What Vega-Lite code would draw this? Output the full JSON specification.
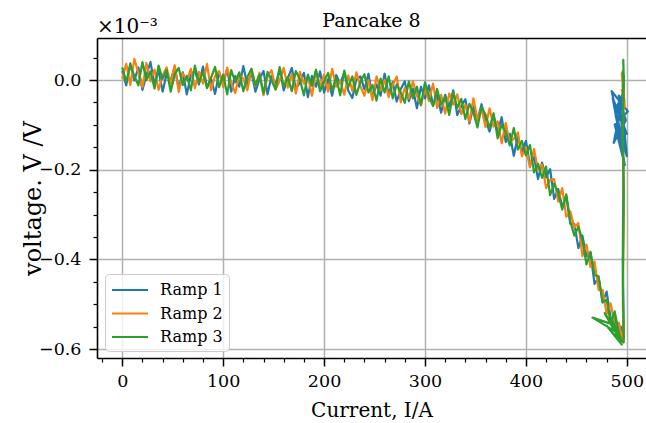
{
  "$schema": "https://vega.github.io/schema/vega-lite/v6.json",
  "width": 549,
  "height": 320,
  "autosize": {"type": "none"},
  "padding": {"left": 97, "top": 38, "right": 0, "bottom": 65},
  "background": "white",
  "title": {"text": "Pancake 8", "font": "DejaVu Serif", "fontSize": 19, "fontWeight": "normal", "color": "black", "offset": 8, "dy": 22, "anchor": "middle", "frame": "group"},
  "config": {
    "view": {"stroke": null},
    "axis": {
      "labelFont": "DejaVu Serif", "labelFontSize": 17.5, "labelColor": "black",
      "titleFont": "DejaVu Serif", "titleFontSize": 20, "titleColor": "black", "titleFontWeight": "normal",
      "domainColor": "black", "domainWidth": 1.6, "tickColor": "black", "tickWidth": 1.5,
      "gridColor": "#b0b0b0", "gridWidth": 1.5
    }
  },
  "resolve": {"axis": {"x": "independent", "y": "independent"}},
  "layer": [
    {
      "data": {"values": [
{"ramp":"Ramp 1","i":0,"v":0.020},{"ramp":"Ramp 1","i":4,"v":-0.012},{"ramp":"Ramp 1","i":8,"v":0.037},{"ramp":"Ramp 1","i":12,"v":-0.001},{"ramp":"Ramp 1","i":16,"v":0.028},{"ramp":"Ramp 1","i":20,"v":-0.022},{"ramp":"Ramp 1","i":24,"v":0.011},{"ramp":"Ramp 1","i":28,"v":0.040},{"ramp":"Ramp 1","i":32,"v":-0.010},{"ramp":"Ramp 1","i":36,"v":0.022},
{"ramp":"Ramp 1","i":40,"v":-0.026},{"ramp":"Ramp 1","i":44,"v":0.014},{"ramp":"Ramp 1","i":48,"v":-0.001},{"ramp":"Ramp 1","i":52,"v":0.029},{"ramp":"Ramp 1","i":56,"v":-0.019},{"ramp":"Ramp 1","i":60,"v":0.017},{"ramp":"Ramp 1","i":64,"v":-0.032},{"ramp":"Ramp 1","i":68,"v":0.011},{"ramp":"Ramp 1","i":72,"v":0.022},{"ramp":"Ramp 1","i":76,"v":-0.010},
{"ramp":"Ramp 1","i":80,"v":0.030},{"ramp":"Ramp 1","i":84,"v":-0.016},{"ramp":"Ramp 1","i":88,"v":0.003},{"ramp":"Ramp 1","i":92,"v":-0.031},{"ramp":"Ramp 1","i":96,"v":0.016},{"ramp":"Ramp 1","i":100,"v":-0.006},{"ramp":"Ramp 1","i":104,"v":0.024},{"ramp":"Ramp 1","i":108,"v":-0.026},{"ramp":"Ramp 1","i":112,"v":0.009},{"ramp":"Ramp 1","i":116,"v":-0.015},
{"ramp":"Ramp 1","i":120,"v":0.031},{"ramp":"Ramp 1","i":124,"v":-0.011},{"ramp":"Ramp 1","i":128,"v":0.017},{"ramp":"Ramp 1","i":132,"v":-0.026},{"ramp":"Ramp 1","i":136,"v":0.002},{"ramp":"Ramp 1","i":140,"v":0.020},{"ramp":"Ramp 1","i":144,"v":-0.032},{"ramp":"Ramp 1","i":148,"v":0.010},{"ramp":"Ramp 1","i":152,"v":-0.011},{"ramp":"Ramp 1","i":156,"v":0.024},
{"ramp":"Ramp 1","i":160,"v":-0.023},{"ramp":"Ramp 1","i":164,"v":0.003},{"ramp":"Ramp 1","i":168,"v":0.027},{"ramp":"Ramp 1","i":172,"v":-0.020},{"ramp":"Ramp 1","i":176,"v":-0.006},{"ramp":"Ramp 1","i":180,"v":0.016},{"ramp":"Ramp 1","i":184,"v":-0.038},{"ramp":"Ramp 1","i":188,"v":0.009},{"ramp":"Ramp 1","i":192,"v":-0.015},{"ramp":"Ramp 1","i":196,"v":0.019},
{"ramp":"Ramp 1","i":200,"v":-0.028},{"ramp":"Ramp 1","i":204,"v":0.002},{"ramp":"Ramp 1","i":208,"v":-0.035},{"ramp":"Ramp 1","i":212,"v":0.011},{"ramp":"Ramp 1","i":216,"v":-0.008},{"ramp":"Ramp 1","i":220,"v":0.017},{"ramp":"Ramp 1","i":224,"v":-0.024},{"ramp":"Ramp 1","i":228,"v":-0.040},{"ramp":"Ramp 1","i":232,"v":0.001},{"ramp":"Ramp 1","i":236,"v":0.008},
{"ramp":"Ramp 1","i":240,"v":-0.021},{"ramp":"Ramp 1","i":244,"v":0.014},{"ramp":"Ramp 1","i":248,"v":-0.039},{"ramp":"Ramp 1","i":252,"v":-0.010},{"ramp":"Ramp 1","i":256,"v":-0.035},{"ramp":"Ramp 1","i":260,"v":0.014},{"ramp":"Ramp 1","i":264,"v":-0.032},{"ramp":"Ramp 1","i":268,"v":-0.005},{"ramp":"Ramp 1","i":272,"v":-0.048},{"ramp":"Ramp 1","i":276,"v":-0.020},
{"ramp":"Ramp 1","i":280,"v":-0.003},{"ramp":"Ramp 1","i":284,"v":-0.047},{"ramp":"Ramp 1","i":288,"v":-0.019},{"ramp":"Ramp 1","i":292,"v":-0.063},{"ramp":"Ramp 1","i":296,"v":-0.015},{"ramp":"Ramp 1","i":300,"v":-0.041},{"ramp":"Ramp 1","i":304,"v":-0.012},{"ramp":"Ramp 1","i":308,"v":-0.056},{"ramp":"Ramp 1","i":312,"v":-0.034},{"ramp":"Ramp 1","i":316,"v":-0.073},
{"ramp":"Ramp 1","i":320,"v":-0.033},{"ramp":"Ramp 1","i":324,"v":-0.060},{"ramp":"Ramp 1","i":328,"v":-0.023},{"ramp":"Ramp 1","i":332,"v":-0.078},{"ramp":"Ramp 1","i":336,"v":-0.058},{"ramp":"Ramp 1","i":340,"v":-0.043},{"ramp":"Ramp 1","i":344,"v":-0.097},{"ramp":"Ramp 1","i":348,"v":-0.059},{"ramp":"Ramp 1","i":352,"v":-0.090},{"ramp":"Ramp 1","i":356,"v":-0.054},
{"ramp":"Ramp 1","i":360,"v":-0.089},{"ramp":"Ramp 1","i":364,"v":-0.115},{"ramp":"Ramp 1","i":368,"v":-0.080},{"ramp":"Ramp 1","i":372,"v":-0.116},{"ramp":"Ramp 1","i":376,"v":-0.083},{"ramp":"Ramp 1","i":380,"v":-0.138},{"ramp":"Ramp 1","i":384,"v":-0.120},{"ramp":"Ramp 1","i":388,"v":-0.169},{"ramp":"Ramp 1","i":392,"v":-0.127},{"ramp":"Ramp 1","i":396,"v":-0.160},
{"ramp":"Ramp 1","i":400,"v":-0.136},{"ramp":"Ramp 1","i":404,"v":-0.189},{"ramp":"Ramp 1","i":408,"v":-0.172},{"ramp":"Ramp 1","i":412,"v":-0.221},{"ramp":"Ramp 1","i":416,"v":-0.184},{"ramp":"Ramp 1","i":420,"v":-0.217},{"ramp":"Ramp 1","i":424,"v":-0.199},{"ramp":"Ramp 1","i":428,"v":-0.265},{"ramp":"Ramp 1","i":432,"v":-0.243},{"ramp":"Ramp 1","i":436,"v":-0.283},
{"ramp":"Ramp 1","i":440,"v":-0.259},{"ramp":"Ramp 1","i":444,"v":-0.321},{"ramp":"Ramp 1","i":448,"v":-0.321},{"ramp":"Ramp 1","i":452,"v":-0.375},{"ramp":"Ramp 1","i":456,"v":-0.347},{"ramp":"Ramp 1","i":460,"v":-0.393},{"ramp":"Ramp 1","i":464,"v":-0.385},{"ramp":"Ramp 1","i":468,"v":-0.455},{"ramp":"Ramp 1","i":472,"v":-0.440},{"ramp":"Ramp 1","i":476,"v":-0.496},
{"ramp":"Ramp 1","i":480,"v":-0.472},{"ramp":"Ramp 1","i":484,"v":-0.532},{"ramp":"Ramp 1","i":488,"v":-0.530},{"ramp":"Ramp 1","i":492,"v":-0.579},{"ramp":"Ramp 1","i":495,"v":-0.565},{"ramp":"Ramp 1","i":490,"v":-0.555},{"ramp":"Ramp 1","i":496,"v":-0.582},{"ramp":"Ramp 1","i":494,"v":-0.550},{"ramp":"Ramp 1","i":497,"v":-0.575},{"ramp":"Ramp 1","i":496,"v":-0.400},
{"ramp":"Ramp 1","i":496.5,"v":-0.200},{"ramp":"Ramp 1","i":496,"v":-0.050},{"ramp":"Ramp 1","i":497,"v":0.010},{"ramp":"Ramp 1","i":496,"v":-0.030},{"ramp":"Ramp 1","i":490,"v":-0.060},{"ramp":"Ramp 1","i":500,"v":-0.120},{"ramp":"Ramp 1","i":486,"v":-0.040},{"ramp":"Ramp 1","i":498,"v":-0.190},{"ramp":"Ramp 1","i":488,"v":-0.100},{"ramp":"Ramp 1","i":501,"v":-0.070},
{"ramp":"Ramp 1","i":485,"v":-0.025},{"ramp":"Ramp 1","i":497,"v":-0.150},{"ramp":"Ramp 1","i":492,"v":-0.035},{"ramp":"Ramp 1","i":499,"v":-0.090},{"ramp":"Ramp 1","i":487,"v":-0.140},{"ramp":"Ramp 1","i":495,"v":-0.050},{"ramp":"Ramp 1","i":500,"v":-0.170},{"ramp":"Ramp 1","i":489,"v":-0.080},{"ramp":"Ramp 1","i":496,"v":-0.030},

{"ramp":"Ramp 2","i":0,"v":0.003},{"ramp":"Ramp 2","i":4,"v":0.036},{"ramp":"Ramp 2","i":8,"v":-0.011},{"ramp":"Ramp 2","i":12,"v":0.047},{"ramp":"Ramp 2","i":16,"v":0.016},{"ramp":"Ramp 2","i":20,"v":-0.016},{"ramp":"Ramp 2","i":24,"v":0.038},{"ramp":"Ramp 2","i":28,"v":-0.003},{"ramp":"Ramp 2","i":32,"v":0.023},{"ramp":"Ramp 2","i":36,"v":-0.022},
{"ramp":"Ramp 2","i":40,"v":0.010},{"ramp":"Ramp 2","i":44,"v":0.028},{"ramp":"Ramp 2","i":48,"v":-0.010},{"ramp":"Ramp 2","i":52,"v":0.033},{"ramp":"Ramp 2","i":56,"v":-0.027},{"ramp":"Ramp 2","i":60,"v":0.015},{"ramp":"Ramp 2","i":64,"v":-0.001},{"ramp":"Ramp 2","i":68,"v":0.025},{"ramp":"Ramp 2","i":72,"v":-0.018},{"ramp":"Ramp 2","i":76,"v":0.018},
{"ramp":"Ramp 2","i":80,"v":-0.008},{"ramp":"Ramp 2","i":84,"v":0.036},{"ramp":"Ramp 2","i":88,"v":-0.023},{"ramp":"Ramp 2","i":92,"v":0.009},{"ramp":"Ramp 2","i":96,"v":0.020},{"ramp":"Ramp 2","i":100,"v":-0.016},{"ramp":"Ramp 2","i":104,"v":0.028},{"ramp":"Ramp 2","i":108,"v":-0.006},{"ramp":"Ramp 2","i":112,"v":-0.029},{"ramp":"Ramp 2","i":116,"v":0.013},
{"ramp":"Ramp 2","i":120,"v":0.003},{"ramp":"Ramp 2","i":124,"v":-0.023},{"ramp":"Ramp 2","i":128,"v":0.025},{"ramp":"Ramp 2","i":132,"v":-0.014},{"ramp":"Ramp 2","i":136,"v":0.016},{"ramp":"Ramp 2","i":140,"v":-0.034},{"ramp":"Ramp 2","i":144,"v":0.008},{"ramp":"Ramp 2","i":148,"v":0.022},{"ramp":"Ramp 2","i":152,"v":-0.021},{"ramp":"Ramp 2","i":156,"v":-0.001},
{"ramp":"Ramp 2","i":160,"v":0.027},{"ramp":"Ramp 2","i":164,"v":-0.017},{"ramp":"Ramp 2","i":168,"v":0.013},{"ramp":"Ramp 2","i":172,"v":-0.030},{"ramp":"Ramp 2","i":176,"v":0.018},{"ramp":"Ramp 2","i":180,"v":-0.008},{"ramp":"Ramp 2","i":184,"v":0.008},{"ramp":"Ramp 2","i":188,"v":-0.035},{"ramp":"Ramp 2","i":192,"v":0.021},{"ramp":"Ramp 2","i":196,"v":-0.015},
{"ramp":"Ramp 2","i":200,"v":0.012},{"ramp":"Ramp 2","i":204,"v":-0.026},{"ramp":"Ramp 2","i":208,"v":0.025},{"ramp":"Ramp 2","i":212,"v":-0.015},{"ramp":"Ramp 2","i":216,"v":-0.002},{"ramp":"Ramp 2","i":220,"v":-0.033},{"ramp":"Ramp 2","i":224,"v":0.010},{"ramp":"Ramp 2","i":228,"v":-0.024},{"ramp":"Ramp 2","i":232,"v":0.017},{"ramp":"Ramp 2","i":236,"v":-0.014},
{"ramp":"Ramp 2","i":240,"v":-0.035},{"ramp":"Ramp 2","i":244,"v":0.000},{"ramp":"Ramp 2","i":248,"v":-0.045},{"ramp":"Ramp 2","i":252,"v":0.008},{"ramp":"Ramp 2","i":256,"v":-0.023},{"ramp":"Ramp 2","i":260,"v":0.000},{"ramp":"Ramp 2","i":264,"v":-0.038},{"ramp":"Ramp 2","i":268,"v":-0.011},{"ramp":"Ramp 2","i":272,"v":0.008},{"ramp":"Ramp 2","i":276,"v":-0.050},
{"ramp":"Ramp 2","i":280,"v":-0.017},{"ramp":"Ramp 2","i":284,"v":-0.041},{"ramp":"Ramp 2","i":288,"v":-0.003},{"ramp":"Ramp 2","i":292,"v":-0.035},{"ramp":"Ramp 2","i":296,"v":-0.057},{"ramp":"Ramp 2","i":300,"v":-0.019},{"ramp":"Ramp 2","i":304,"v":-0.047},{"ramp":"Ramp 2","i":308,"v":-0.008},{"ramp":"Ramp 2","i":312,"v":-0.062},{"ramp":"Ramp 2","i":316,"v":-0.033},
{"ramp":"Ramp 2","i":320,"v":-0.075},{"ramp":"Ramp 2","i":324,"v":-0.030},{"ramp":"Ramp 2","i":328,"v":-0.055},{"ramp":"Ramp 2","i":332,"v":-0.032},{"ramp":"Ramp 2","i":336,"v":-0.076},{"ramp":"Ramp 2","i":340,"v":-0.055},{"ramp":"Ramp 2","i":344,"v":-0.093},{"ramp":"Ramp 2","i":348,"v":-0.041},{"ramp":"Ramp 2","i":352,"v":-0.088},{"ramp":"Ramp 2","i":356,"v":-0.064},
{"ramp":"Ramp 2","i":360,"v":-0.105},{"ramp":"Ramp 2","i":364,"v":-0.063},{"ramp":"Ramp 2","i":368,"v":-0.104},{"ramp":"Ramp 2","i":372,"v":-0.092},{"ramp":"Ramp 2","i":376,"v":-0.141},{"ramp":"Ramp 2","i":380,"v":-0.096},{"ramp":"Ramp 2","i":384,"v":-0.140},{"ramp":"Ramp 2","i":388,"v":-0.131},{"ramp":"Ramp 2","i":392,"v":-0.117},{"ramp":"Ramp 2","i":396,"v":-0.170},
{"ramp":"Ramp 2","i":400,"v":-0.150},{"ramp":"Ramp 2","i":404,"v":-0.195},{"ramp":"Ramp 2","i":408,"v":-0.154},{"ramp":"Ramp 2","i":412,"v":-0.201},{"ramp":"Ramp 2","i":416,"v":-0.188},{"ramp":"Ramp 2","i":420,"v":-0.241},{"ramp":"Ramp 2","i":424,"v":-0.223},{"ramp":"Ramp 2","i":428,"v":-0.221},{"ramp":"Ramp 2","i":432,"v":-0.271},{"ramp":"Ramp 2","i":436,"v":-0.241},
{"ramp":"Ramp 2","i":440,"v":-0.305},{"ramp":"Ramp 2","i":444,"v":-0.293},{"ramp":"Ramp 2","i":448,"v":-0.329},{"ramp":"Ramp 2","i":452,"v":-0.319},{"ramp":"Ramp 2","i":456,"v":-0.393},{"ramp":"Ramp 2","i":460,"v":-0.367},{"ramp":"Ramp 2","i":464,"v":-0.417},{"ramp":"Ramp 2","i":468,"v":-0.405},{"ramp":"Ramp 2","i":472,"v":-0.468},{"ramp":"Ramp 2","i":476,"v":-0.468},
{"ramp":"Ramp 2","i":480,"v":-0.522},{"ramp":"Ramp 2","i":484,"v":-0.498},{"ramp":"Ramp 2","i":488,"v":-0.548},{"ramp":"Ramp 2","i":492,"v":-0.541},{"ramp":"Ramp 2","i":496,"v":-0.585},{"ramp":"Ramp 2","i":493,"v":-0.555},{"ramp":"Ramp 2","i":497,"v":-0.578},{"ramp":"Ramp 2","i":496,"v":-0.500},{"ramp":"Ramp 2","i":497,"v":-0.300},{"ramp":"Ramp 2","i":496,"v":-0.120},
{"ramp":"Ramp 2","i":497,"v":-0.020},{"ramp":"Ramp 2","i":495,"v":0.015},{"ramp":"Ramp 2","i":497,"v":-0.040},{"ramp":"Ramp 2","i":496,"v":0.000},{"ramp":"Ramp 2","i":498,"v":-0.060},{"ramp":"Ramp 2","i":495,"v":-0.020},

{"ramp":"Ramp 3","i":0,"v":0.028},{"ramp":"Ramp 3","i":4,"v":-0.004},{"ramp":"Ramp 3","i":8,"v":0.033},{"ramp":"Ramp 3","i":12,"v":0.009},{"ramp":"Ramp 3","i":16,"v":-0.012},{"ramp":"Ramp 3","i":20,"v":0.040},{"ramp":"Ramp 3","i":24,"v":0.000},{"ramp":"Ramp 3","i":28,"v":0.019},{"ramp":"Ramp 3","i":32,"v":-0.019},{"ramp":"Ramp 3","i":36,"v":0.032},
{"ramp":"Ramp 3","i":40,"v":0.002},{"ramp":"Ramp 3","i":44,"v":0.022},{"ramp":"Ramp 3","i":48,"v":-0.026},{"ramp":"Ramp 3","i":52,"v":0.013},{"ramp":"Ramp 3","i":56,"v":0.027},{"ramp":"Ramp 3","i":60,"v":-0.011},{"ramp":"Ramp 3","i":64,"v":0.009},{"ramp":"Ramp 3","i":68,"v":-0.023},{"ramp":"Ramp 3","i":72,"v":0.032},{"ramp":"Ramp 3","i":76,"v":-0.006},
{"ramp":"Ramp 3","i":80,"v":0.018},{"ramp":"Ramp 3","i":84,"v":-0.018},{"ramp":"Ramp 3","i":88,"v":0.005},{"ramp":"Ramp 3","i":92,"v":0.029},{"ramp":"Ramp 3","i":96,"v":-0.016},{"ramp":"Ramp 3","i":100,"v":0.012},{"ramp":"Ramp 3","i":104,"v":-0.032},{"ramp":"Ramp 3","i":108,"v":0.022},{"ramp":"Ramp 3","i":112,"v":-0.005},{"ramp":"Ramp 3","i":116,"v":0.017},
{"ramp":"Ramp 3","i":120,"v":-0.025},{"ramp":"Ramp 3","i":124,"v":0.007},{"ramp":"Ramp 3","i":128,"v":0.025},{"ramp":"Ramp 3","i":132,"v":-0.012},{"ramp":"Ramp 3","i":136,"v":0.012},{"ramp":"Ramp 3","i":140,"v":-0.030},{"ramp":"Ramp 3","i":144,"v":0.018},{"ramp":"Ramp 3","i":148,"v":-0.002},{"ramp":"Ramp 3","i":152,"v":-0.021},{"ramp":"Ramp 3","i":156,"v":0.029},
{"ramp":"Ramp 3","i":160,"v":-0.015},{"ramp":"Ramp 3","i":164,"v":0.007},{"ramp":"Ramp 3","i":168,"v":-0.025},{"ramp":"Ramp 3","i":172,"v":0.020},{"ramp":"Ramp 3","i":176,"v":0.002},{"ramp":"Ramp 3","i":180,"v":-0.034},{"ramp":"Ramp 3","i":184,"v":0.012},{"ramp":"Ramp 3","i":188,"v":-0.013},{"ramp":"Ramp 3","i":192,"v":0.023},{"ramp":"Ramp 3","i":196,"v":-0.025},
{"ramp":"Ramp 3","i":200,"v":-0.004},{"ramp":"Ramp 3","i":204,"v":0.016},{"ramp":"Ramp 3","i":208,"v":-0.023},{"ramp":"Ramp 3","i":212,"v":0.005},{"ramp":"Ramp 3","i":216,"v":-0.034},{"ramp":"Ramp 3","i":220,"v":0.021},{"ramp":"Ramp 3","i":224,"v":-0.016},{"ramp":"Ramp 3","i":228,"v":0.008},{"ramp":"Ramp 3","i":232,"v":-0.033},{"ramp":"Ramp 3","i":236,"v":-0.004},
{"ramp":"Ramp 3","i":240,"v":0.013},{"ramp":"Ramp 3","i":244,"v":-0.028},{"ramp":"Ramp 3","i":248,"v":-0.011},{"ramp":"Ramp 3","i":252,"v":-0.046},{"ramp":"Ramp 3","i":256,"v":0.003},{"ramp":"Ramp 3","i":260,"v":-0.028},{"ramp":"Ramp 3","i":264,"v":0.008},{"ramp":"Ramp 3","i":268,"v":-0.041},{"ramp":"Ramp 3","i":272,"v":-0.010},{"ramp":"Ramp 3","i":276,"v":-0.028},
{"ramp":"Ramp 3","i":280,"v":-0.051},{"ramp":"Ramp 3","i":284,"v":-0.003},{"ramp":"Ramp 3","i":288,"v":-0.041},{"ramp":"Ramp 3","i":292,"v":-0.015},{"ramp":"Ramp 3","i":296,"v":-0.055},{"ramp":"Ramp 3","i":300,"v":-0.005},{"ramp":"Ramp 3","i":304,"v":-0.037},{"ramp":"Ramp 3","i":308,"v":-0.058},{"ramp":"Ramp 3","i":312,"v":-0.020},{"ramp":"Ramp 3","i":316,"v":-0.055},
{"ramp":"Ramp 3","i":320,"v":-0.037},{"ramp":"Ramp 3","i":324,"v":-0.078},{"ramp":"Ramp 3","i":328,"v":-0.027},{"ramp":"Ramp 3","i":332,"v":-0.062},{"ramp":"Ramp 3","i":336,"v":-0.042},{"ramp":"Ramp 3","i":340,"v":-0.087},{"ramp":"Ramp 3","i":344,"v":-0.053},{"ramp":"Ramp 3","i":348,"v":-0.073},{"ramp":"Ramp 3","i":352,"v":-0.106},{"ramp":"Ramp 3","i":356,"v":-0.060},
{"ramp":"Ramp 3","i":360,"v":-0.077},{"ramp":"Ramp 3","i":364,"v":-0.107},{"ramp":"Ramp 3","i":368,"v":-0.074},{"ramp":"Ramp 3","i":372,"v":-0.130},{"ramp":"Ramp 3","i":376,"v":-0.099},{"ramp":"Ramp 3","i":380,"v":-0.116},{"ramp":"Ramp 3","i":384,"v":-0.146},{"ramp":"Ramp 3","i":388,"v":-0.107},{"ramp":"Ramp 3","i":392,"v":-0.155},{"ramp":"Ramp 3","i":396,"v":-0.136},
{"ramp":"Ramp 3","i":400,"v":-0.168},{"ramp":"Ramp 3","i":404,"v":-0.145},{"ramp":"Ramp 3","i":408,"v":-0.206},{"ramp":"Ramp 3","i":412,"v":-0.187},{"ramp":"Ramp 3","i":416,"v":-0.218},{"ramp":"Ramp 3","i":420,"v":-0.193},{"ramp":"Ramp 3","i":424,"v":-0.257},{"ramp":"Ramp 3","i":428,"v":-0.231},{"ramp":"Ramp 3","i":432,"v":-0.253},{"ramp":"Ramp 3","i":436,"v":-0.289},
{"ramp":"Ramp 3","i":440,"v":-0.255},{"ramp":"Ramp 3","i":444,"v":-0.315},{"ramp":"Ramp 3","i":448,"v":-0.347},{"ramp":"Ramp 3","i":452,"v":-0.327},{"ramp":"Ramp 3","i":456,"v":-0.357},{"ramp":"Ramp 3","i":460,"v":-0.411},{"ramp":"Ramp 3","i":464,"v":-0.383},{"ramp":"Ramp 3","i":468,"v":-0.435},{"ramp":"Ramp 3","i":472,"v":-0.438},{"ramp":"Ramp 3","i":476,"v":-0.496},
{"ramp":"Ramp 3","i":480,"v":-0.490},{"ramp":"Ramp 3","i":484,"v":-0.542},{"ramp":"Ramp 3","i":488,"v":-0.516},{"ramp":"Ramp 3","i":492,"v":-0.563},{"ramp":"Ramp 3","i":484,"v":-0.530},{"ramp":"Ramp 3","i":494,"v":-0.575},{"ramp":"Ramp 3","i":478,"v":-0.520},{"ramp":"Ramp 3","i":488,"v":-0.560},{"ramp":"Ramp 3","i":466,"v":-0.530},{"ramp":"Ramp 3","i":486,"v":-0.545},
{"ramp":"Ramp 3","i":492,"v":-0.580},{"ramp":"Ramp 3","i":480,"v":-0.548},{"ramp":"Ramp 3","i":495,"v":-0.590},{"ramp":"Ramp 3","i":489,"v":-0.570},{"ramp":"Ramp 3","i":497,"v":-0.585},{"ramp":"Ramp 3","i":496,"v":-0.450},{"ramp":"Ramp 3","i":497,"v":-0.250},{"ramp":"Ramp 3","i":496,"v":-0.100},{"ramp":"Ramp 3","i":497,"v":0.000},{"ramp":"Ramp 3","i":496.5,"v":0.045},
{"ramp":"Ramp 3","i":497,"v":-0.020},{"ramp":"Ramp 3","i":496,"v":0.020},{"ramp":"Ramp 3","i":497,"v":-0.050},{"ramp":"Ramp 3","i":496,"v":-0.010}
      ]},
      "mark": {"type": "line", "strokeWidth": 2.2, "strokeJoin": "round", "clip": true},
      "encoding": {
        "x": {"field": "i", "type": "quantitative",
              "scale": {"domain": [-25, 519], "nice": false, "zero": false},
              "axis": {"orient": "bottom", "values": [0, 100, 200, 300, 400, 500], "format": "d", "grid": true, "tickSize": 8, "labelPadding": 6, "title": "Current, I/A", "titlePadding": 11}},
        "y": {"field": "v", "type": "quantitative",
              "scale": {"domain": [-0.62, 0.0937], "nice": false, "zero": false},
              "axis": {"orient": "left", "values": [-0.6, -0.4, -0.2, 0.0], "format": ".1f", "grid": true, "tickSize": 8, "labelPadding": 8, "title": "voltage.  V /V", "titleFontSize": 24, "titlePadding": -7}},
        "color": {"field": "ramp", "type": "nominal",
                  "scale": {"domain": ["Ramp 1", "Ramp 2", "Ramp 3"], "range": ["#1f77b4", "#ff7f0e", "#2ca02c"]},
                  "legend": {"title": null, "orient": "none", "legendX": 8, "legendY": 236, "symbolType": "M-2,0H2", "symbolSize": 324, "symbolOffset": 9, "symbolStrokeWidth": 2, "labelFont": "DejaVu Serif", "labelFontSize": 16, "labelColor": "black", "labelOffset": 20, "rowPadding": 5.5, "padding": 6, "fillColor": "rgba(255,255,255,0.8)", "strokeColor": "#cccccc", "cornerRadius": 4}},
        "order": {"value": null}
      }
    },
    {
      "data": {"values": [{"label": "×10⁻³"}]},
      "mark": {"type": "text", "align": "left", "baseline": "alphabetic", "dy": -5, "font": "DejaVu Serif", "fontSize": 20, "color": "black", "clip": false},
      "encoding": {
        "x": {"datum": -25, "type": "quantitative",
              "scale": {"domain": [-25, 519], "nice": false, "zero": false},
              "axis": {"orient": "bottom", "values": [-20, 20, 40, 60, 80, 120, 140, 160, 180, 220, 240, 260, 280, 320, 340, 360, 380, 420, 440, 460, 480], "labels": false, "grid": false, "domain": false, "tickSize": 4, "tickWidth": 1.2, "title": null}},
        "y": {"datum": 0.0937, "type": "quantitative",
              "scale": {"domain": [-0.62, 0.0937], "nice": false, "zero": false},
              "axis": {"orient": "left", "values": [-0.55, -0.5, -0.45, -0.35, -0.3, -0.25, -0.15, -0.1, -0.05, 0.05], "labels": false, "grid": false, "domain": false, "tickSize": 4, "tickWidth": 1.2, "title": null}},
        "text": {"field": "label", "type": "nominal"}
      }
    },
    {
      "data": {"values": [{"label": ""}]},
      "mark": {"type": "text", "opacity": 0},
      "encoding": {
        "x": {"datum": 0, "type": "quantitative",
              "scale": {"domain": [-25, 519], "nice": false, "zero": false},
              "axis": {"orient": "top", "labels": false, "ticks": false, "grid": false, "domain": true, "title": null}},
        "y": {"datum": 0, "type": "quantitative",
              "scale": {"domain": [-0.62, 0.0937], "nice": false, "zero": false},
              "axis": null},
        "text": {"field": "label", "type": "nominal"}
      }
    }
  ]
}
